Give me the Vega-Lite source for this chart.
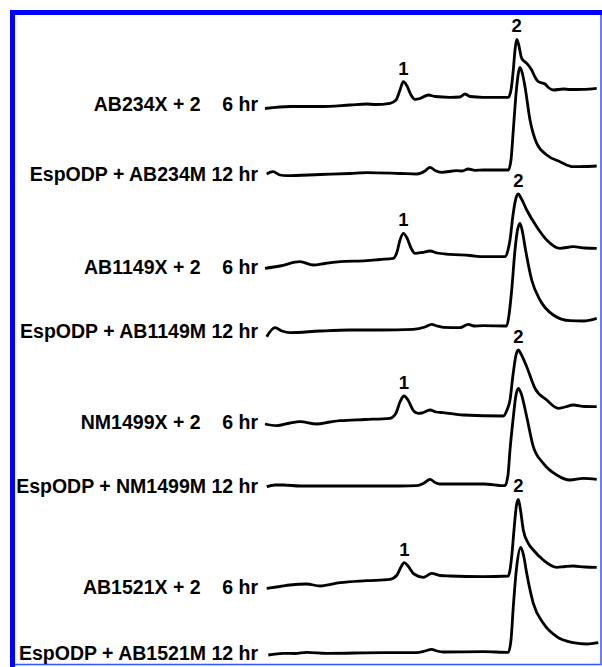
{
  "$schema": "https://vega.github.io/schema/vega-lite/v6.json",
  "width": 588.5,
  "height": 652,
  "autosize": {"type": "none"},
  "padding": {"left": 12.5, "top": 12.5, "right": 1, "bottom": 2.5},
  "background": "white",
  "config": {"view": {"stroke": "#3355ff", "strokeWidth": 1.5}},
  "datasets": {
    "traces": [
      {"s":"1","t":0,"A":5.56},{"s":"1","t":2.5,"A":5.58},{"s":"1","t":5.5,"A":5.58},{"s":"1","t":8.5,"A":5.595},{"s":"1","t":10.2,"A":5.605},{"s":"1","t":11,"A":5.6},{"s":"1","t":12.5,"A":5.612},{"s":"1","t":13.1,"A":5.645},{"s":"1","t":13.5,"A":5.745},{"s":"1","t":13.83,"A":5.828},{"s":"1","t":14.2,"A":5.785},{"s":"1","t":14.6,"A":5.695},{"s":"1","t":15,"A":5.652},{"s":"1","t":15.5,"A":5.66},{"s":"1","t":16.33,"A":5.695},{"s":"1","t":17,"A":5.68},{"s":"1","t":18.5,"A":5.672},{"s":"1","t":19.5,"A":5.675},{"s":"1","t":20,"A":5.705},{"s":"1","t":20.5,"A":5.68},{"s":"1","t":21.8,"A":5.672},{"s":"1","t":24.33,"A":5.672},{"s":"1","t":24.6,"A":5.745},{"s":"1","t":24.83,"A":5.945},{"s":"1","t":25,"A":6.145},{"s":"1","t":25.17,"A":6.252},{"s":"1","t":25.35,"A":6.205},{"s":"1","t":25.67,"A":6.062},{"s":"1","t":26.17,"A":6.012},{"s":"1","t":26.67,"A":5.945},{"s":"1","t":27,"A":5.875},{"s":"1","t":27.33,"A":5.828},{"s":"1","t":28,"A":5.805},{"s":"1","t":28.4,"A":5.765},{"s":"1","t":28.83,"A":5.745},{"s":"1","t":29.83,"A":5.755},{"s":"1","t":30.5,"A":5.75},{"s":"1","t":31.83,"A":5.752},{"s":"1","t":33.17,"A":5.762},

      {"s":"2","t":0.17,"A":4.905},{"s":"2","t":0.8,"A":4.928},{"s":"2","t":1.5,"A":4.895},{"s":"2","t":2.17,"A":4.888},{"s":"2","t":5.5,"A":4.9},{"s":"2","t":8.5,"A":4.91},{"s":"2","t":10.17,"A":4.918},{"s":"2","t":13.5,"A":4.91},{"s":"2","t":15.17,"A":4.905},{"s":"2","t":16,"A":4.935},{"s":"2","t":16.5,"A":4.972},{"s":"2","t":17,"A":4.94},{"s":"2","t":17.67,"A":4.922},{"s":"2","t":19.17,"A":4.938},{"s":"2","t":19.7,"A":4.935},{"s":"2","t":20.33,"A":4.955},{"s":"2","t":21,"A":4.942},{"s":"2","t":21.83,"A":4.945},{"s":"2","t":24.33,"A":4.945},{"s":"2","t":24.6,"A":5.045},{"s":"2","t":24.83,"A":5.345},{"s":"2","t":25.17,"A":5.778},{"s":"2","t":25.5,"A":5.972},{"s":"2","t":25.75,"A":5.905},{"s":"2","t":26,"A":5.778},{"s":"2","t":26.5,"A":5.445},{"s":"2","t":27.17,"A":5.212},{"s":"2","t":28.17,"A":5.095},{"s":"2","t":29.5,"A":5.028},{"s":"2","t":30.83,"A":4.978},{"s":"2","t":32,"A":4.98},{"s":"2","t":33.17,"A":4.985},

      {"s":"3","t":0,"A":3.962},{"s":"3","t":1.5,"A":3.985},{"s":"3","t":3.5,"A":4.028},{"s":"3","t":4.83,"A":3.995},{"s":"3","t":6,"A":4.01},{"s":"3","t":7.5,"A":4.028},{"s":"3","t":10.17,"A":4.038},{"s":"3","t":11.5,"A":4.05},{"s":"3","t":12.83,"A":4.062},{"s":"3","t":13.2,"A":4.125},{"s":"3","t":13.5,"A":4.245},{"s":"3","t":13.83,"A":4.312},{"s":"3","t":14.2,"A":4.265},{"s":"3","t":14.6,"A":4.165},{"s":"3","t":15,"A":4.112},{"s":"3","t":15.7,"A":4.12},{"s":"3","t":16.5,"A":4.135},{"s":"3","t":17.2,"A":4.115},{"s":"3","t":18.5,"A":4.102},{"s":"3","t":20.5,"A":4.09},{"s":"3","t":21.83,"A":4.078},{"s":"3","t":24,"A":4.078},{"s":"3","t":24.3,"A":4.145},{"s":"3","t":24.5,"A":4.245},{"s":"3","t":24.8,"A":4.495},{"s":"3","t":25.1,"A":4.665},{"s":"3","t":25.33,"A":4.705},{"s":"3","t":25.6,"A":4.665},{"s":"3","t":26.17,"A":4.545},{"s":"3","t":27.17,"A":4.378},{"s":"3","t":28.17,"A":4.245},{"s":"3","t":29.5,"A":4.162},{"s":"3","t":30.83,"A":4.178},{"s":"3","t":32,"A":4.165},{"s":"3","t":33.17,"A":4.162},

      {"s":"4","t":0.17,"A":3.278},{"s":"4","t":1,"A":3.368},{"s":"4","t":1.7,"A":3.335},{"s":"4","t":2.5,"A":3.318},{"s":"4","t":5.5,"A":3.335},{"s":"4","t":8.5,"A":3.345},{"s":"4","t":11.5,"A":3.345},{"s":"4","t":14.83,"A":3.352},{"s":"4","t":16,"A":3.375},{"s":"4","t":16.67,"A":3.402},{"s":"4","t":17.2,"A":3.385},{"s":"4","t":17.83,"A":3.372},{"s":"4","t":19.5,"A":3.368},{"s":"4","t":20.33,"A":3.402},{"s":"4","t":20.9,"A":3.385},{"s":"4","t":21.83,"A":3.388},{"s":"4","t":24.17,"A":3.385},{"s":"4","t":24.4,"A":3.495},{"s":"4","t":24.67,"A":3.745},{"s":"4","t":25,"A":4.145},{"s":"4","t":25.25,"A":4.345},{"s":"4","t":25.5,"A":4.412},{"s":"4","t":25.75,"A":4.325},{"s":"4","t":26,"A":4.178},{"s":"4","t":26.67,"A":3.845},{"s":"4","t":27.5,"A":3.645},{"s":"4","t":28.83,"A":3.495},{"s":"4","t":30.5,"A":3.438},{"s":"4","t":31.83,"A":3.435},{"s":"4","t":33.17,"A":3.462},

      {"s":"5","t":0,"A":2.405},{"s":"5","t":1.17,"A":2.388},{"s":"5","t":2.5,"A":2.415},{"s":"5","t":3.5,"A":2.428},{"s":"5","t":5.17,"A":2.405},{"s":"5","t":6.5,"A":2.425},{"s":"5","t":7.5,"A":2.438},{"s":"5","t":10,"A":2.45},{"s":"5","t":12.5,"A":2.462},{"s":"5","t":13.1,"A":2.515},{"s":"5","t":13.5,"A":2.625},{"s":"5","t":13.9,"A":2.685},{"s":"5","t":14.3,"A":2.645},{"s":"5","t":14.8,"A":2.545},{"s":"5","t":15.3,"A":2.512},{"s":"5","t":15.7,"A":2.515},{"s":"5","t":16.5,"A":2.545},{"s":"5","t":17.1,"A":2.525},{"s":"5","t":17.83,"A":2.518},{"s":"5","t":19.83,"A":2.495},{"s":"5","t":23.83,"A":2.485},{"s":"5","t":24.2,"A":2.545},{"s":"5","t":24.5,"A":2.645},{"s":"5","t":24.8,"A":2.895},{"s":"5","t":25.1,"A":3.095},{"s":"5","t":25.33,"A":3.145},{"s":"5","t":25.6,"A":3.105},{"s":"5","t":26.17,"A":2.978},{"s":"5","t":27,"A":2.762},{"s":"5","t":28.17,"A":2.645},{"s":"5","t":29.33,"A":2.562},{"s":"5","t":30,"A":2.575},{"s":"5","t":30.83,"A":2.595},{"s":"5","t":32,"A":2.58},{"s":"5","t":33.17,"A":2.578},

      {"s":"6","t":0.17,"A":1.778},{"s":"6","t":1,"A":1.795},{"s":"6","t":1.83,"A":1.795},{"s":"6","t":3.5,"A":1.785},{"s":"6","t":8.5,"A":1.785},{"s":"6","t":13.5,"A":1.785},{"s":"6","t":15.17,"A":1.788},{"s":"6","t":15.9,"A":1.815},{"s":"6","t":16.5,"A":1.852},{"s":"6","t":17,"A":1.82},{"s":"6","t":17.5,"A":1.805},{"s":"6","t":21.83,"A":1.805},{"s":"6","t":24,"A":1.788},{"s":"6","t":24.3,"A":1.895},{"s":"6","t":24.5,"A":2.145},{"s":"6","t":24.8,"A":2.445},{"s":"6","t":25.1,"A":2.695},{"s":"6","t":25.33,"A":2.762},{"s":"6","t":25.6,"A":2.715},{"s":"6","t":26.17,"A":2.478},{"s":"6","t":26.83,"A":2.178},{"s":"6","t":27.83,"A":2.012},{"s":"6","t":29.17,"A":1.895},{"s":"6","t":30.5,"A":1.845},{"s":"6","t":31.83,"A":1.862},{"s":"6","t":33.17,"A":1.852},

      {"s":"7","t":0.17,"A":0.762},{"s":"7","t":1.5,"A":0.78},{"s":"7","t":2.5,"A":0.795},{"s":"7","t":4.17,"A":0.805},{"s":"7","t":5.5,"A":0.785},{"s":"7","t":7.5,"A":0.818},{"s":"7","t":10.17,"A":0.838},{"s":"7","t":12.5,"A":0.852},{"s":"7","t":13.2,"A":0.895},{"s":"7","t":13.6,"A":0.975},{"s":"7","t":13.93,"A":1.018},{"s":"7","t":14.3,"A":0.985},{"s":"7","t":14.9,"A":0.905},{"s":"7","t":15.83,"A":0.872},{"s":"7","t":16.67,"A":0.912},{"s":"7","t":17.5,"A":0.89},{"s":"7","t":18.5,"A":0.885},{"s":"7","t":21.83,"A":0.878},{"s":"7","t":24.33,"A":0.885},{"s":"7","t":24.5,"A":0.945},{"s":"7","t":24.67,"A":1.078},{"s":"7","t":24.9,"A":1.345},{"s":"7","t":25.15,"A":1.595},{"s":"7","t":25.33,"A":1.652},{"s":"7","t":25.55,"A":1.545},{"s":"7","t":25.83,"A":1.345},{"s":"7","t":26.33,"A":1.212},{"s":"7","t":26.83,"A":1.145},{"s":"7","t":27.83,"A":1.045},{"s":"7","t":29.17,"A":0.972},{"s":"7","t":30,"A":0.98},{"s":"7","t":30.83,"A":0.985},{"s":"7","t":32,"A":0.975},{"s":"7","t":33.17,"A":0.972},

      {"s":"8","t":0.33,"A":0.095},{"s":"8","t":1.83,"A":0.112},{"s":"8","t":3,"A":0.11},{"s":"8","t":4.17,"A":0.122},{"s":"8","t":6.17,"A":0.112},{"s":"8","t":11.83,"A":0.118},{"s":"8","t":15.17,"A":0.118},{"s":"8","t":16,"A":0.135},{"s":"8","t":16.67,"A":0.152},{"s":"8","t":17.2,"A":0.135},{"s":"8","t":17.83,"A":0.125},{"s":"8","t":21.83,"A":0.128},{"s":"8","t":24.33,"A":0.122},{"s":"8","t":24.6,"A":0.245},{"s":"8","t":24.83,"A":0.578},{"s":"8","t":25.17,"A":0.978},{"s":"8","t":25.57,"A":1.172},{"s":"8","t":25.85,"A":1.095},{"s":"8","t":26.17,"A":0.912},{"s":"8","t":26.83,"A":0.612},{"s":"8","t":27.83,"A":0.412},{"s":"8","t":29.17,"A":0.278},{"s":"8","t":30.83,"A":0.218},{"s":"8","t":32.17,"A":0.205},{"s":"8","t":33.33,"A":0.218}
    ],
    "labels": [
      {"s":"1","label":"AB234X + 2\u00a0\u00a0\u00a0 6 hr","t":-0.7,"A":5.595},
      {"s":"2","label":"EspODP + AB234M 12 hr","t":-0.7,"A":4.895},
      {"s":"3","label":"AB1149X + 2\u00a0\u00a0\u00a0 6 hr","t":-0.7,"A":3.965},
      {"s":"4","label":"EspODP + AB1149M 12 hr","t":-0.7,"A":3.328},
      {"s":"5","label":"NM1499X + 2\u00a0\u00a0\u00a0 6 hr","t":-0.7,"A":2.412},
      {"s":"6","label":"EspODP + NM1499M 12 hr","t":-0.7,"A":1.778},
      {"s":"7","label":"AB1521X + 2\u00a0\u00a0\u00a0 6 hr","t":-0.7,"A":0.765},
      {"s":"8","label":"EspODP + AB1521M 12 hr","t":-0.7,"A":0.105}
    ],
    "peaks": [
      {"s":"1","peak":"1","t":13.83,"A":5.828},
      {"s":"1","peak":"2","t":25.17,"A":6.252},
      {"s":"3","peak":"1","t":13.83,"A":4.312},
      {"s":"3","peak":"2","t":25.33,"A":4.705},
      {"s":"5","peak":"1","t":13.9,"A":2.685},
      {"s":"5","peak":"2","t":25.33,"A":3.145},
      {"s":"7","peak":"1","t":13.93,"A":1.018},
      {"s":"7","peak":"2","t":25.33,"A":1.652}
    ],
    "frame": [
      {"side": "left", "t": -25.25, "A": 6.52}
    ]
  },
  "layer": [
    {
      "data": {"name": "traces"},
      "mark": {"type": "line", "color": "black", "strokeWidth": 2.8, "interpolate": "monotone"},
      "encoding": {
        "x": {"field": "t", "type": "quantitative", "scale": {"domain": [-25.25, 33.6], "nice": false, "zero": false}, "axis": null},
        "y": {"field": "A", "type": "quantitative", "scale": {"domain": [0, 6.52], "nice": false, "zero": false}, "axis": null},
        "detail": {"field": "s", "type": "nominal"}
      }
    },
    {
      "data": {"name": "labels"},
      "mark": {"type": "text", "align": "right", "baseline": "middle", "font": "Liberation Sans", "fontWeight": "bold", "fontSize": 19.5, "color": "black"},
      "encoding": {
        "x": {"field": "t", "type": "quantitative"},
        "y": {"field": "A", "type": "quantitative"},
        "text": {"field": "label"}
      }
    },
    {
      "data": {"name": "peaks"},
      "mark": {"type": "text", "align": "center", "baseline": "middle", "dy": -13, "font": "Liberation Sans", "fontWeight": "bold", "fontSize": 18.5, "color": "black"},
      "encoding": {
        "x": {"field": "t", "type": "quantitative"},
        "y": {"field": "A", "type": "quantitative"},
        "text": {"field": "peak"}
      }
    },
    {
      "data": {"name": "frame"},
      "mark": {"type": "rule", "color": "#0000ff", "strokeWidth": 5, "strokeCap": "square"},
      "encoding": {"x": {"field": "t", "type": "quantitative"}}
    },
    {
      "data": {"name": "frame"},
      "mark": {"type": "rule", "color": "#0000ff", "strokeWidth": 5, "strokeCap": "square"},
      "encoding": {"y": {"field": "A", "type": "quantitative"}}
    }
  ]
}
